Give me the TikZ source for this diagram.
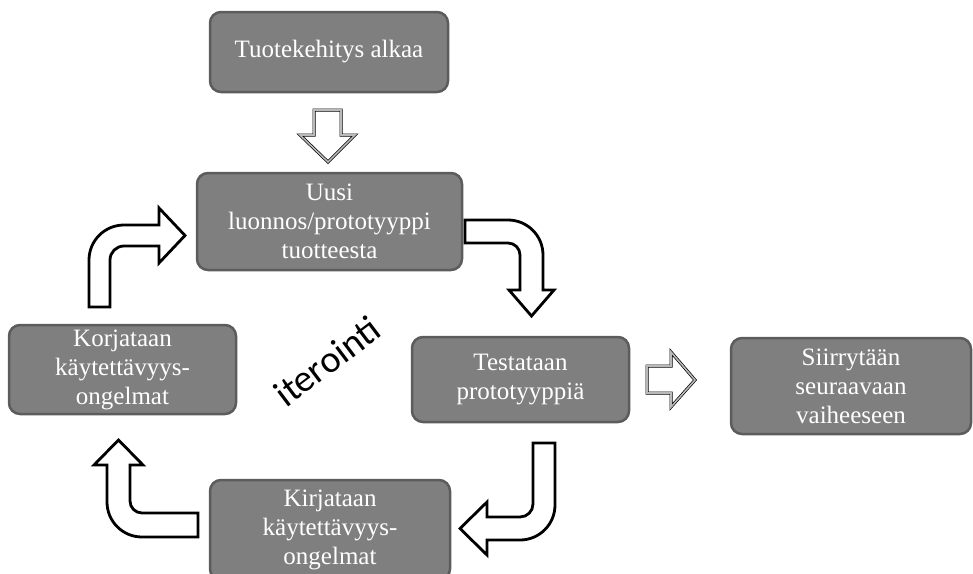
\documentclass[tikz,border=0pt]{standalone}
\usepackage{fontspec}
\setmainfont{Liberation Serif}
\newfontfamily\iterfont{Carlito}
\definecolor{boxfill}{HTML}{7F7F7F}
\definecolor{boxline}{HTML}{5C5C5C}
\begin{document}
\begin{tikzpicture}[x=1pt,y=-1pt,
  stepbox/.style={draw=boxline, line width=2.5pt, fill=boxfill, rounded corners=11pt,
    text=white, align=center, inner sep=0pt,
    font=\fontsize{25}{29}\selectfont},
  bentarrow/.style={draw=black, line width=2.8pt, fill=white, line join=miter},
  dblarrow/.style={draw=black, line width=0.7pt, double=gray!55, double distance=1.6pt, fill=white, line join=miter}
]
\useasboundingbox (0,0) rectangle (973,573);

\node[stepbox, minimum width=238pt, minimum height=80pt] (start) at (329,52) {Tuotekehitys alkaa};
\node[stepbox, minimum width=265pt, minimum height=97pt] (uusi) at (329.5,221.5) {Uusi\\luonnos/prototyyppi\\tuotteesta};
\node[stepbox, minimum width=227pt, minimum height=89pt] (korj) at (122.5,369.5) {Korjataan\\käytettävyys-\\ongelmat};
\node[stepbox, minimum width=217pt, minimum height=85pt] (test) at (520.5,379.5) {Testataan\\prototyyppiä};
\node[stepbox, minimum width=240pt, minimum height=96pt] (siirr) at (851,386) {Siirrytään\\seuraavaan\\vaiheeseen};
\node[stepbox, minimum width=240pt, minimum height=100pt] (kirj) at (330,530) {Kirjataan\\käytettävyys-\\ongelmat};

\node[rotate=37, font=\iterfont\fontsize{38}{42}\selectfont, inner sep=0pt] (iter) at (327,361) {iterointi};

% straight double-outline arrows
\draw[dblarrow] (314,110) -- (341,110) -- (341,135) -- (355,135) -- (328,162) -- (300,135) -- (314,135) -- cycle;
\draw[dblarrow] (647,366) -- (671,366) -- (671,352) -- (695,380) -- (671,407) -- (671,393) -- (647,393) -- cycle;

% bent arrows
% Korjataan -> Uusi
\draw[bentarrow] (89,307) -- (89,260) .. controls (89,240.67) and (104.67,225) .. (124,225)
  -- (159,225) -- (159,208) -- (185,235.5) -- (159,263) -- (159,246) -- (124,246)
  .. controls (116.27,246) and (110,252.27) .. (110,260) -- (110,307) -- cycle;
% Uusi -> Testataan
\draw[bentarrow] (465,220) -- (508,220) .. controls (527.33,220) and (543,235.67) .. (543,255)
  -- (543,290) -- (554,290) -- (531.5,316) -- (509,290) -- (520,290) -- (520,255)
  .. controls (520,248.37) and (514.63,243) .. (508,243) -- (465,243) -- cycle;
% Testataan -> Kirjataan
\draw[bentarrow] (533,443) -- (555,443) -- (555,505) .. controls (555,524.33) and (539.33,540) .. (520,540)
  -- (487,540) -- (487,555) -- (460,528.5) -- (487,502) -- (487,517) -- (520,517)
  .. controls (527.18,517) and (533,511.18) .. (533,504) -- cycle;
% Kirjataan -> Korjataan
\draw[bentarrow] (198,513) -- (198,537) -- (142,537) .. controls (122.67,537) and (107,521.33) .. (107,502)
  -- (107,465) -- (94,465) -- (118.5,440) -- (143,465) -- (130,465) -- (130,501)
  .. controls (130,507.63) and (135.37,513) .. (142,513) -- cycle;
\end{tikzpicture}
\end{document}
